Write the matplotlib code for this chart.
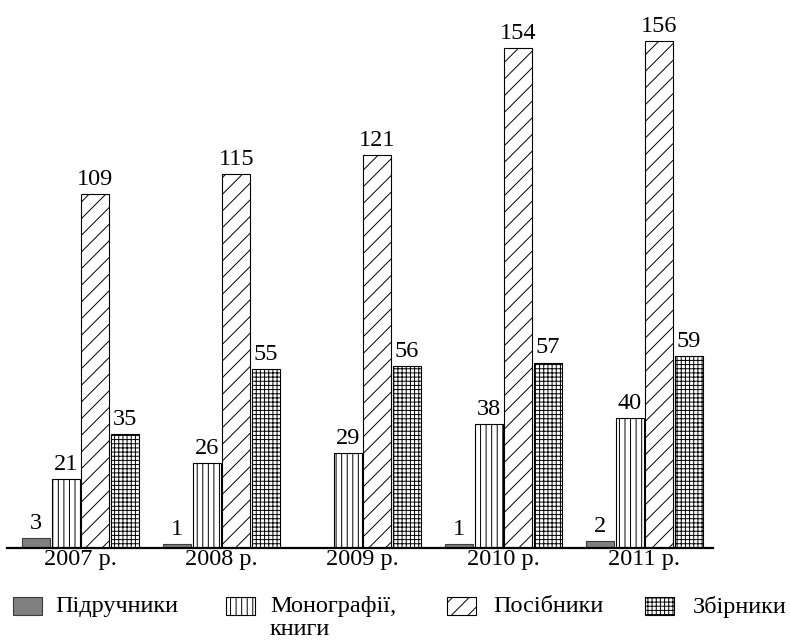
import matplotlib
matplotlib.use("Agg")
import matplotlib.pyplot as plt
from matplotlib.patches import Rectangle
import numpy as np

years = ['2007 р.', '2008 р.', '2009 р.', '2010 р.', '2011 р.']
series_names = ['Підручники', 'Монографії,\nкниги', 'Посібники', 'Збірники']
pidruchnyky = [3, 1, 0, 1, 2]
monohrafii = [21, 26, 29, 38, 40]
posibnyky = [109, 115, 121, 154, 156]
zbirnyky = [35, 55, 56, 57, 59]

series = [pidruchnyky, monohrafii, posibnyky, zbirnyky]
colors = ['#808080', 'white', 'white', 'white']
edges = ['#3a3a3a', 'black', 'black', 'black']
hatches = [None, '|||', '//', '++++']

plt.rcParams['font.family'] = ['Liberation Serif', 'DejaVu Serif']
plt.rcParams['hatch.linewidth'] = 0.7

W, H = 790, 642
fig = plt.figure(figsize=(W / 100, H / 100), dpi=100)
base = 547.5
ax = fig.add_axes([7 / W, (H - base) / H, (713 - 7) / W, base / H])

x = np.arange(len(years))
pitch = 0.21
width = 0.199
for k, vals in enumerate(series):
    bars = ax.bar(x + (k - 1.5) * pitch, vals, width, color=colors[k],
                  edgecolor=edges[k], linewidth=0.8, hatch=hatches[k])
    labels = [str(v) if v > 0 else '' for v in vals]
    ax.bar_label(bars, labels=labels, padding=3, fontsize=17.5)

ax.set_xlim(-0.521, 4.486)
ax.set_ylim(0, base / 3.245)
ax.set_xticks(x)
ax.set_xticklabels(years, fontsize=17.5)
ax.tick_params(axis='x', length=0, pad=1)
ax.set_yticks([])
for s in ['left', 'top', 'right']:
    ax.spines[s].set_visible(False)
ax.spines['bottom'].set_linewidth(1.6)

# legend drawn by hand to follow the original spacing
patch_x = [13, 226, 447, 645]
text_x = [55, 270, 493, 693]
for k in range(4):
    r = Rectangle((patch_x[k] / W, 1 - 615 / H), 29 / W, 18 / H,
                  transform=fig.transFigure, facecolor=colors[k],
                  edgecolor=edges[k], linewidth=0.8, hatch=hatches[k])
    fig.add_artist(r)
    fig.text(text_x[k] / W, 1 - 596 / H, series_names[k], fontsize=17.5,
             va='top', ha='left', linespacing=1.1)

fig.savefig('out.png', dpi=100)
